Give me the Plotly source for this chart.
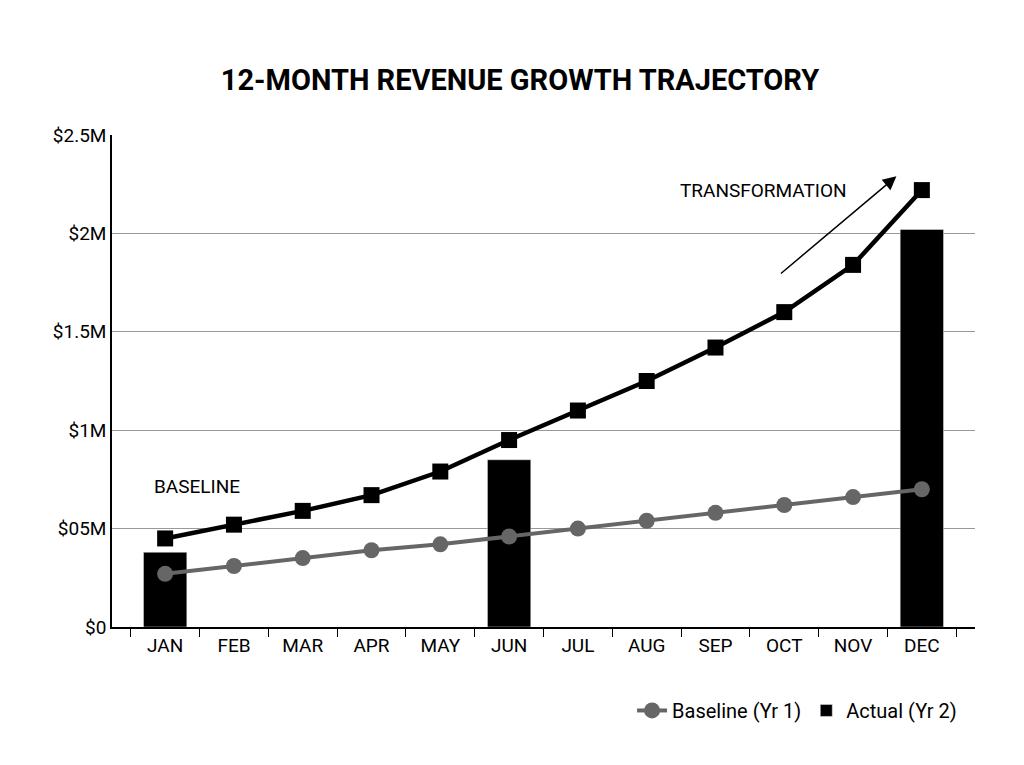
import plotly.graph_objects as go

months = ["JAN","FEB","MAR","APR","MAY","JUN","JUL","AUG","SEP","OCT","NOV","DEC"]
actual = [0.45,0.52,0.59,0.67,0.79,0.95,1.10,1.25,1.42,1.60,1.84,2.22]
baseline = [0.27,0.31,0.35,0.39,0.42,0.46,0.50,0.54,0.58,0.62,0.66,0.70]
bars = [0.38,None,None,None,None,0.85,None,None,None,None,None,2.02]
tickvals = [0,0.5,1,1.5,2,2.5]
ticktext = ["$0","$05M","$1M","$1.5M","$2M","$2.5M"]

fig = go.Figure()
fig.add_bar(x=months, y=bars, marker_color="black", width=0.63, name="Actual (Yr 2)", showlegend=True)
fig.add_scatter(x=months, y=baseline, mode="lines+markers", name="Baseline (Yr 1)",
                line=dict(color="#666666", width=4), marker=dict(size=16, color="#666666", symbol="circle"))
fig.add_scatter(x=months, y=actual, mode="lines+markers", showlegend=False,
                line=dict(color="black", width=4.5), marker=dict(size=16, color="black", symbol="square"))
fig.add_annotation(x=10.63, y=2.29, ax=8.93, ay=1.79, xref="x", yref="y", axref="x", ayref="y",
                   showarrow=True, arrowhead=2, arrowsize=1.8, arrowwidth=1.5, arrowcolor="black", text="")
fig.add_annotation(x=8.7, y=2.22, xref="x", yref="y", text="TRANSFORMATION", showarrow=False,
                   font=dict(size=19, color="black"))
fig.add_annotation(x=0.47, y=0.715, xref="x", yref="y", text="BASELINE", showarrow=False,
                   font=dict(size=19, color="black"))
fig.update_layout(
    width=1024, height=765, paper_bgcolor="white", plot_bgcolor="white",
    font=dict(family="Roboto", size=19, color="black"),
    title=dict(text="<b>12-MONTH REVENUE GROWTH TRAJECTORY</b>", x=0.5, y=0.92, xanchor="center",
               font=dict(size=29, color="black")),
    margin=dict(l=104, r=57, t=127, b=146),
    legend=dict(orientation="h", x=0.985, xanchor="right", y=-0.13, yanchor="top",
                traceorder="reversed", font=dict(size=20)),
)
fig.update_yaxes(range=[0,2.5], tickvals=tickvals, ticktext=ticktext, showgrid=True, gridcolor="#999999",
                 gridwidth=1, showline=True, linecolor="black", linewidth=1.5, ticks="", zeroline=False)
fig.update_xaxes(showline=True, linecolor="black", linewidth=1.5, ticks="outside", tickson="boundaries",
                 ticklen=8, tickcolor="black", showgrid=False)
fig.write_html("out.html")
